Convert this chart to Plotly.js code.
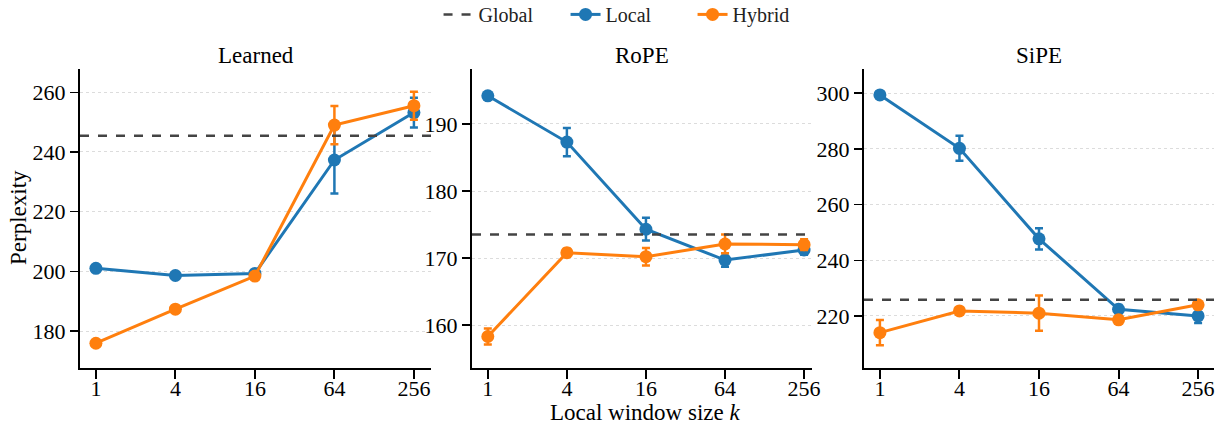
<!DOCTYPE html>
<html>
<head>
<meta charset="utf-8">
<script src="https://cdn.plot.ly/plotly-3.0.1.min.js"></script>
<style>html,body{margin:0;padding:0;background:#fff;}#chart{width:1225px;height:424px;}</style>
</head>
<body>
<div id="chart"></div>
<script>
// ---- data ----
const windowSizes = ['1', '4', '16', '64', '256'];
const panelTitles = ['Learned', 'RoPE', 'SiPE'];

const learnedLocal = [201.0, 198.6, 199.3, 237.3, 253.2];
const learnedLocalErr = [0.8, 1.0, 0.8, 11.2, 5.0];
const learnedHybrid = [175.9, 187.3, 198.4, 249.0, 255.5];
const learnedHybridErr = [0.6, 0.8, 0.8, 6.4, 4.7];
const learnedGlobal = 245.4;

const ropeLocal = [194.2, 187.3, 174.3, 169.7, 171.2];
const ropeLocalErr = [0.3, 2.1, 1.7, 1.0, 0.7];
const ropeHybrid = [158.3, 170.8, 170.2, 172.1, 172.0];
const ropeHybridErr = [1.2, 0.6, 1.3, 1.4, 0.8];
const ropeGlobal = 173.5;

const sipeLocal = [299.4, 280.2, 247.7, 222.4, 220.0];
const sipeLocalErr = [0.5, 4.5, 3.8, 1.5, 2.5];
const sipeHybrid = [214.0, 221.8, 221.0, 218.6, 224.0];
const sipeHybridErr = [4.5, 0.8, 6.3, 0.8, 1.0];
const sipeGlobal = 225.8;

const yTicks1 = [180, 200, 220, 240, 260];
const yTicks2 = [160, 170, 180, 190];
const yTicks3 = [220, 240, 260, 280, 300];

// ---- style ----
const BLUE = '#1f77b4', ORANGE = '#ff7f0e', GREY = '#444444';
const FONT = 'Liberation Serif';

const panels = [
  {local: learnedLocal, lErr: learnedLocalErr, hybrid: learnedHybrid, hErr: learnedHybridErr, global: learnedGlobal},
  {local: ropeLocal, lErr: ropeLocalErr, hybrid: ropeHybrid, hErr: ropeHybridErr, global: ropeGlobal},
  {local: sipeLocal, lErr: sipeLocalErr, hybrid: sipeHybrid, hErr: sipeHybridErr, global: sipeGlobal}
];

const traces = [];
traces.push({x: [null], y: [null], mode: 'lines', name: 'Global',
  line: {color: GREY, width: 2.5, dash: 'dash'}, showlegend: true, hoverinfo: 'skip'});

panels.forEach((p, i) => {
  const xa = i === 0 ? 'x' : 'x' + (i + 1);
  const ya = i === 0 ? 'y' : 'y' + (i + 1);
  traces.push({x: windowSizes, y: p.local, xaxis: xa, yaxis: ya, mode: 'lines+markers',
    name: 'Local', legendgroup: 'local', showlegend: i === 0,
    line: {color: BLUE, width: 3}, marker: {color: BLUE, size: 13},
    error_y: {type: 'data', array: p.lErr, visible: true, color: BLUE, thickness: 2.5, width: 4}});
  traces.push({x: windowSizes, y: p.hybrid, xaxis: xa, yaxis: ya, mode: 'lines+markers',
    name: 'Hybrid', legendgroup: 'hybrid', showlegend: i === 0,
    line: {color: ORANGE, width: 3}, marker: {color: ORANGE, size: 13},
    error_y: {type: 'data', array: p.hErr, visible: true, color: ORANGE, thickness: 2.5, width: 4}});
});

const W = 1225, H = 424;
const xDomains = [[80 / W, 431 / W], [472 / W, 812 / W], [864 / W, 1214 / W]];
const yDomain = [1 - 368 / H, 1 - 69 / H];
const xRanges = [[-0.2, 4.215], [-0.2, 4.1], [-0.2, 4.2]];
const yRanges = [[167.6, 267.8], [153.6, 198.2], [201.3, 308.7]];
const yTickSets = [yTicks1, yTicks2, yTicks3];

const layout = {
  width: W, height: H,
  margin: {l: 0, r: 0, t: 0, b: 0, autoexpand: false},
  paper_bgcolor: '#fff', plot_bgcolor: '#fff',
  font: {family: FONT, size: 22, color: '#000'},
  showlegend: true,
  legend: {orientation: 'h', x: 0.358, xanchor: 'left', y: 1.012, yanchor: 'top',
    font: {family: FONT, size: 20, color: '#222'}, bgcolor: 'rgba(0,0,0,0)',
    entrywidth: 82, entrywidthmode: 'pixels'},
  shapes: [],
  annotations: []
};

for (let i = 0; i < 3; i++) {
  const sx = i === 0 ? '' : String(i + 1);
  layout['xaxis' + sx] = {
    domain: xDomains[i], anchor: 'y' + sx, type: 'category', range: xRanges[i],
    showline: true, linecolor: '#000', linewidth: 2, mirror: false,
    ticks: 'outside', ticklen: 9, tickwidth: 2, tickcolor: '#000', ticklabelstandoff: -9,
    showgrid: false, zeroline: false, fixedrange: true,
    tickfont: {family: FONT, size: 22, color: '#000'}
  };
  layout['yaxis' + sx] = {
    domain: yDomain, anchor: 'x' + sx, range: yRanges[i], tickvals: yTickSets[i],
    showline: true, linecolor: '#000', linewidth: 2,
    ticks: 'outside', ticklen: 8, tickwidth: 1.5, tickcolor: '#000',
    showgrid: true, gridcolor: '#dcdcdc', gridwidth: 1, griddash: 'dot',
    zeroline: false, fixedrange: true,
    tickfont: {family: FONT, size: 22, color: '#000'}
  };
  layout.shapes.push({type: 'line', xref: 'x' + sx + ' domain', x0: 0, x1: 1,
    yref: 'y' + sx, y0: panels[i].global, y1: panels[i].global,
    line: {color: GREY, width: 2.5, dash: 'dash'}, layer: 'above'});
  layout.annotations.push({text: panelTitles[i], xref: 'paper', yref: 'paper',
    x: (xDomains[i][0] + xDomains[i][1]) / 2, y: 1 - 55 / H, xanchor: 'center', yanchor: 'middle',
    showarrow: false, font: {family: FONT, size: 23, color: '#000'}});
}
layout.annotations.push({text: 'Perplexity', xref: 'paper', yref: 'paper', x: 18 / W, y: 1 - 218 / H,
  xanchor: 'center', yanchor: 'middle', textangle: -90, showarrow: false,
  font: {family: FONT, size: 23, color: '#000'}});
layout.annotations.push({text: 'Local window size <i>k</i>', xref: 'paper', yref: 'paper',
  x: 645 / W, y: 1 - 412 / H, xanchor: 'center', yanchor: 'middle', showarrow: false,
  font: {family: FONT, size: 23, color: '#000'}});

Plotly.newPlot('chart', traces, layout, {staticPlot: true, displayModeBar: false});
</script>
</body>
</html>
